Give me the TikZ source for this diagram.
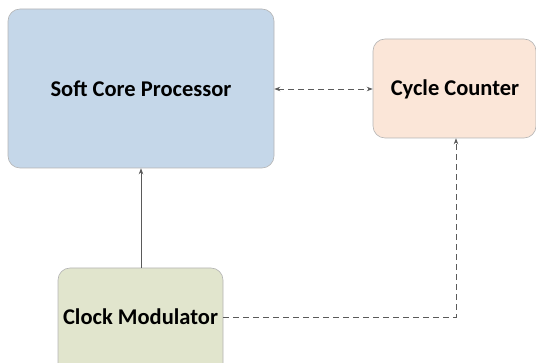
\documentclass[tikz,border=0pt]{standalone}
\usepackage{fontspec}
\setmainfont{Carlito}
\usetikzlibrary{arrows.meta}
\definecolor{procfill}{HTML}{C5D7E9}
\definecolor{cntfill}{HTML}{FBE6D8}
\definecolor{clkfill}{HTML}{E1E5CD}
\definecolor{boxline}{HTML}{B4B4B4}
\definecolor{linkgray}{HTML}{5A5A5A}
\tikzset{
  block/.style={draw=boxline, line width=0.6pt, rounded corners=12pt, inner sep=0pt},
  label/.style={font=\bfseries\fontsize{22.5}{26}\selectfont, inner sep=0pt},
  tip/.style={Stealth[length=6pt,width=4.5pt]},
  link/.style={draw=linkgray, line width=0.8pt, -{Stealth[length=6pt,width=4.5pt]}},
  dlink/.style={link, dash pattern=on 6pt off 4pt}
}
\begin{document}
\begin{tikzpicture}[x=1pt,y=-1pt]
  \useasboundingbox (0,0) rectangle (536,363);
  \clip (0,0) rectangle (536,363);
  % blocks
  \node[block, fill=procfill, minimum width=266pt, minimum height=159pt] (proc) at (141,88.5) {};
  \node[label] (proct) at (141,89) {Soft Core Processor};
  \node[block, fill=cntfill, minimum width=163pt, minimum height=99pt] (cnt) at (454.5,88.5) {};
  \node[label] (cntt) at (455,89) {Cycle Counter};
  \node[block, fill=clkfill, minimum width=165pt, minimum height=120pt] (clk) at (140.5,328) {};
  \node[label] (clkt) at (140.5,317) {Clock Modulator};
  % connectors
  \coordinate (clkout) at (clk.east |- clkt);
  \coordinate (bend) at (456,317);
  \draw[dlink, {Stealth[length=6pt,width=4.5pt]}-{Stealth[length=6pt,width=4.5pt]}] (proc.east |- proct) -- (cnt.west |- proct);
  \draw[link] (clk.north -| 141,0) -- (proc.south -| 141,0);
  \draw[dlink] (clkout) -- (bend) -- (bend |- cnt.south);
\end{tikzpicture}
\end{document}
